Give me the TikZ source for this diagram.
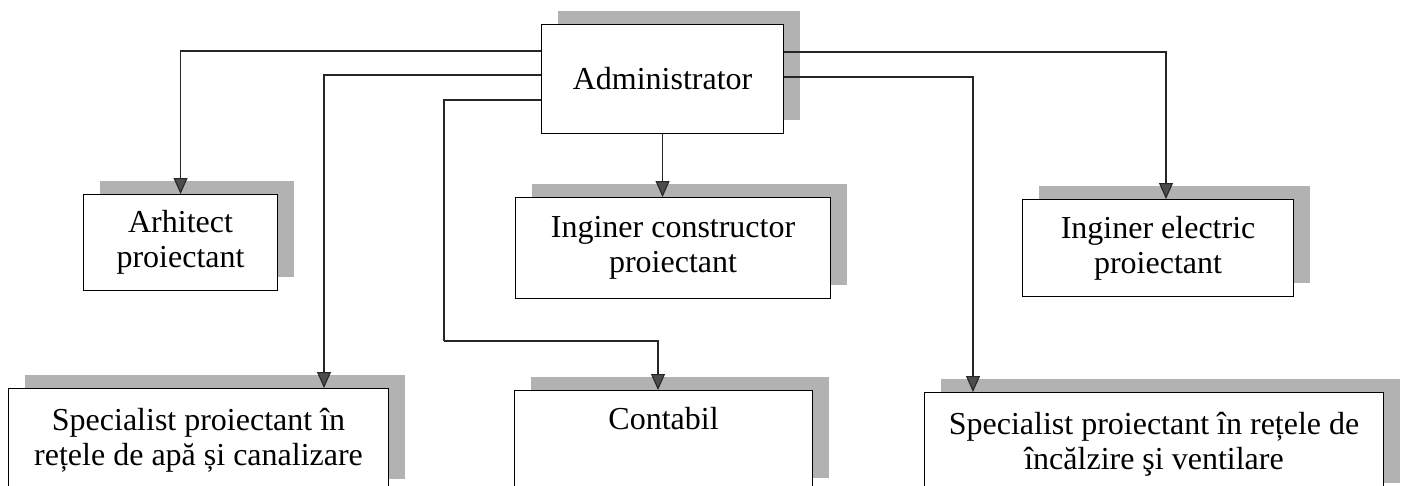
\documentclass[tikz,border=0pt]{standalone}
\usepackage{fontspec}
\setmainfont{Liberation Serif}
\usetikzlibrary{arrows.meta,shadows}
\begin{document}
\begin{tikzpicture}[x=1pt,y=-1pt,
  box/.style={draw=black, line width=1.1pt, fill=white, inner sep=0pt, align=center,
    anchor=north west, font=\fontsize{32}{35}\selectfont,
    general shadow={fill=black!30, shadow xshift=16pt, shadow yshift=14pt}},
  conn/.style={draw=black!85, line width=1.1pt, -{Triangle[width=14pt,length=16pt,fill=black!70]}},
  plain/.style={draw=black!85, line width=1.1pt}]
\clip (0,0) rectangle (1403,485);
\fill[white] (0,0) rectangle (1403,485);
% boxes
\node[box, minimum width=242pt, minimum height=109pt] (adm) at (541,24) {Administrator};
\node[box, minimum width=194pt, minimum height=96pt] (arh) at (83,194) {Arhitect\\proiectant};
\node[box, minimum width=315pt, minimum height=101pt] (ic) at (515,197) {Inginer constructor\\proiectant};
\node[box, minimum width=271pt, minimum height=97pt] (ie) at (1022,199) {Inginer electric\\proiectant};
\node[box, minimum width=380pt, minimum height=104pt] (sp1) at (8,388) {Specialist proiectant în\\rețele de apă și canalizare};
\node[box, minimum width=298pt, minimum height=101pt] (con) at (514,390) {Contabil\\\strut};
\node[box, minimum width=459pt, minimum height=104pt] (sp2) at (924,392) {Specialist proiectant în rețele de\\încălzire şi ventilare};
% helper coordinates
\coordinate (c1) at (444,341);
% connectors
\draw[conn] ([yshift=-27pt]adm.north west) -| (arh.north);
\draw[conn] ([yshift=-51pt]adm.north west) -| ([xshift=316pt]sp1.north west);
\draw[plain] ([yshift=-76pt]adm.north west) -| (c1);
\draw[conn] (c1) -| ([xshift=144pt]con.north west);
\draw[conn] (adm.south) -- (adm.south |- ic.north);
\draw[conn] ([yshift=-28pt]adm.north east) -| ([xshift=144pt]ie.north west);
\draw[conn] ([yshift=-53pt]adm.north east) -| ([xshift=49pt]sp2.north west);
\end{tikzpicture}
\end{document}
